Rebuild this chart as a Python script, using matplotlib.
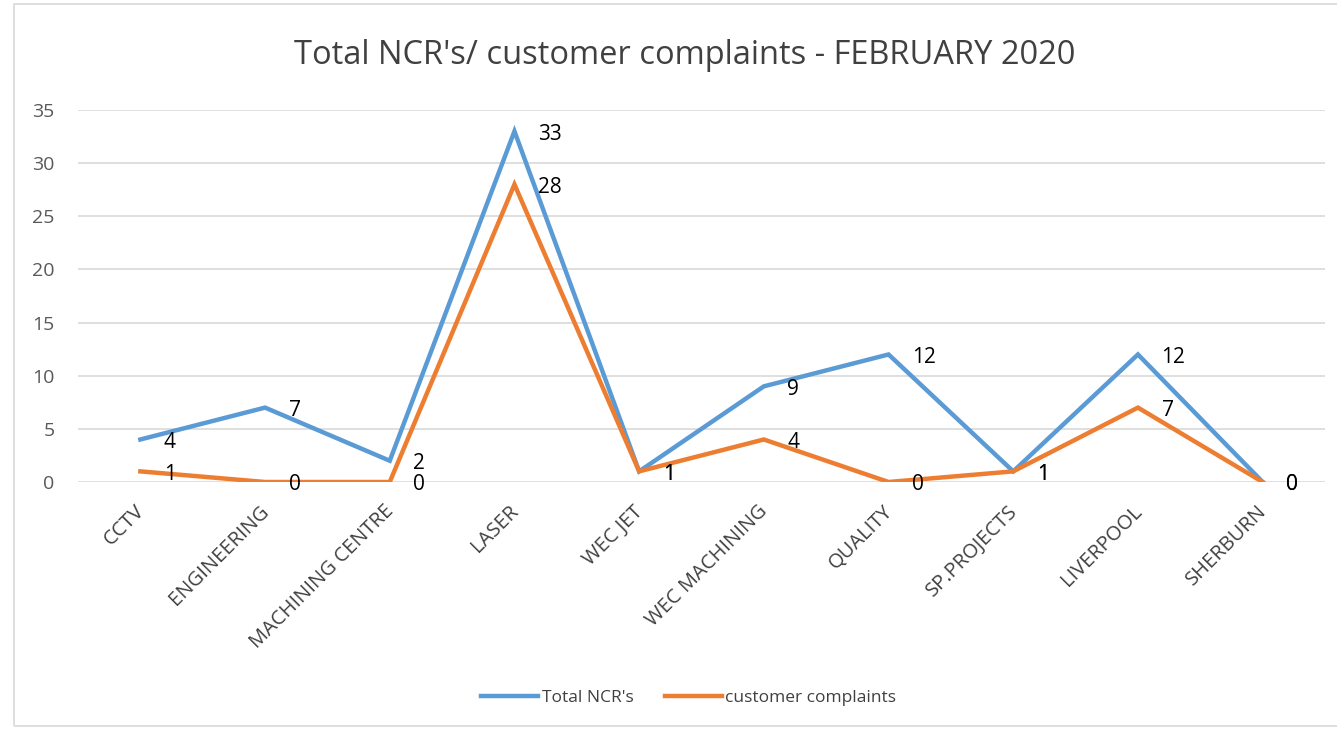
import matplotlib.pyplot as plt
import matplotlib.transforms as mtransforms
import numpy as np

categories = ["CCTV", "ENGINEERING", "MACHINING CENTRE", "LASER", "WEC JET",
              "WEC MACHINING", "QUALITY", "SP.PROJECTS", "LIVERPOOL", "SHERBURN"]
total_ncr = [4, 7, 2, 33, 1, 9, 12, 1, 12, 0]
complaints = [1, 0, 0, 28, 1, 4, 0, 1, 7, 0]

plt.rcParams['font.family'] = ['Open Sans', 'DejaVu Sans']

fig = plt.figure(figsize=(13.37, 7.3), dpi=100)
ax = fig.add_axes([78 / 1337, 1 - 482 / 730, (1325 - 78) / 1337, (482 - 110) / 730])

x = np.arange(len(categories))
ax.plot(x, total_ncr, color="#5b9bd5", lw=3.2, label="Total NCR's", solid_joinstyle="miter")
ax.plot(x, complaints, color="#ed7d31", lw=3.2, label="customer complaints", solid_joinstyle="miter")

for xi, v in zip(x, total_ncr):
    ax.annotate(str(v), (xi, v), xytext=(17, -2), textcoords="offset points",
                ha="left", va="center", fontsize=15, color="black")
for xi, v in zip(x, complaints):
    ax.annotate(str(v), (xi, v), xytext=(17, -2), textcoords="offset points",
                ha="left", va="center", fontsize=15, color="black")

ax.set_xlim(-0.5, len(categories) - 0.5)
ax.set_ylim(0, 35)
ax.set_yticks(range(0, 36, 5))
ax.yaxis.grid(True, color="#d9d9d9", lw=1.2)
ax.set_axisbelow(True)
for s in ax.spines.values():
    s.set_visible(False)
ax.tick_params(axis="y", length=0, labelsize=14, colors="#595959", pad=17)
ax.set_xticks(x)
ax.set_xticklabels(categories, rotation=45, ha="right", rotation_mode="anchor")
ax.tick_params(axis="x", length=0, labelsize=14.5, colors="#404040", pad=14)
shift = mtransforms.ScaledTranslation(-6 / 100, 0, fig.dpi_scale_trans)
for lbl in ax.get_xticklabels():
    lbl.set_transform(lbl.get_transform() + shift)

fig.text(0.512, 1 - 55 / 730, "Total NCR's/ customer complaints - FEBRUARY 2020",
         ha="center", va="center", fontsize=23.5, color="#404040")

leg = fig.legend(loc="center", bbox_to_anchor=(0.515, 1 - 698 / 730), ncol=2,
                 frameon=False, fontsize=12.5, handlelength=3.3, columnspacing=1.8,
                 handletextpad=0.2, labelcolor="#404040")

# chart border
fig.add_artist(plt.Rectangle((14 / 1337, 0.005), 1.0, 0.99, transform=fig.transFigure,
                             fill=False, edgecolor="#d9d9d9", lw=1.2))

fig.savefig("out.png", dpi=100)
